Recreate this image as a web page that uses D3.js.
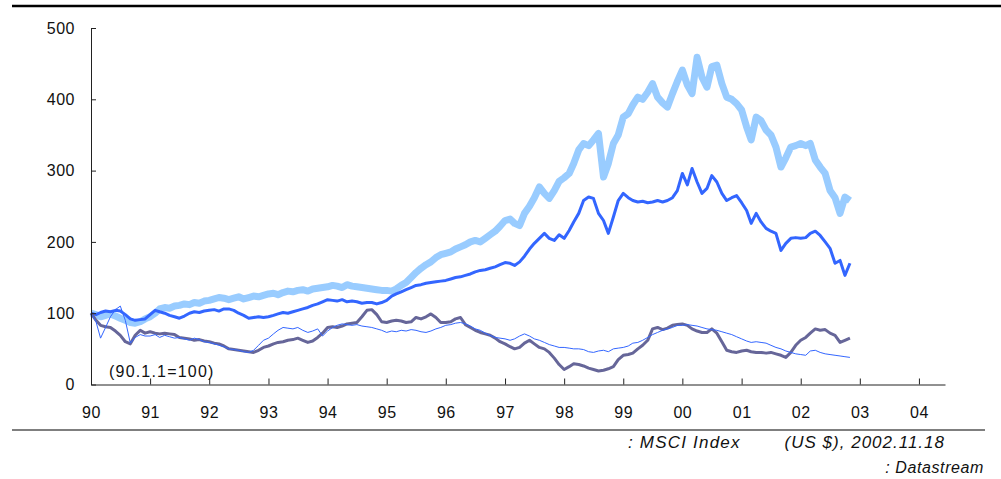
<!DOCTYPE html>
<html>
<head>
<meta charset="utf-8">
<script src="https://cdn.jsdelivr.net/npm/d3@7"></script>
<style>
  body { margin: 0; background: #fff; }
  svg text { font-family: "Liberation Sans", Arial, sans-serif; fill: #111; }
</style>
</head>
<body>
<div id="chart"></div>
<script>
// Monthly points, Jan 1990 .. Nov 2002 (90.1.1 = 100)
const months = d3.timeMonth.range(new Date(1990, 0, 1), new Date(2002, 11, 1));

// light blue, thick
const seriesA = [
  100, 98, 95, 97, 99, 96, 93, 90, 87, 86, 88, 92,
  95, 100, 106, 108, 107, 110, 111, 113, 112, 115, 114, 117,
  118, 120, 122, 121, 119, 121, 123, 120, 122, 124, 123, 125,
  127, 128, 126, 129, 131, 130, 132, 133, 131, 134, 135, 136,
  137, 139, 138, 136, 140, 138, 137, 136, 135, 134, 133, 132,
  132, 131, 134, 139, 143, 150, 157, 163, 168, 172, 178, 182,
  184, 186, 190, 193, 196, 200, 202, 200, 205, 210, 215, 222,
  230, 232, 226, 223, 240, 250, 262, 277, 268, 261, 272, 285,
  290, 296, 310, 329, 338, 335, 343, 352, 291, 310, 338, 350,
  375, 380, 392, 403, 400, 410, 422, 403, 395, 389, 408, 425,
  441, 420, 408, 459, 431, 417, 446, 448, 422, 403, 400, 394,
  385, 361, 343, 375, 370, 357, 350, 333, 305, 318, 333, 335,
  338, 335, 338, 315, 305, 296, 272, 262, 240, 263, 258
];
// blue, medium
const seriesB = [
  100, 98, 101, 103, 102, 104, 103, 98, 92, 90, 91, 92,
  98, 104, 102, 100, 97, 95, 93, 96, 100, 102, 101, 103,
  104, 105, 103, 106, 106, 104, 100, 97, 93, 94, 95, 94,
  95, 97, 99, 101, 100, 102, 104, 106, 108, 111, 113, 116,
  119, 118, 117, 119, 116, 117, 116, 114, 115, 115, 113, 115,
  118, 124, 127, 130, 133, 136, 139, 140, 142, 143, 144, 145,
  146, 148, 150, 151, 153, 155, 158, 160, 161, 163, 165, 168,
  171, 170, 167, 172, 180, 190, 198, 205, 212, 205, 202, 210,
  205, 216, 228, 240, 258, 263, 261, 240, 230, 212, 235, 258,
  268, 262, 258, 256, 257, 255, 256, 258, 256, 258, 262, 272,
  296, 280, 303, 284, 268, 275, 293, 284, 268, 258, 262, 265,
  255, 244, 226, 240, 228, 219, 215, 212, 188, 198, 205, 206,
  205, 206, 212, 215, 209, 200, 191, 170, 174, 153, 170
];
// blue, thin
const seriesC = [
  100, 88, 65, 80, 95, 105, 110, 90, 58, 66, 70, 68,
  68, 70, 66, 69, 67, 65, 66, 64, 62, 65, 63, 60,
  59, 57, 55, 53, 50, 49, 48, 46, 45, 48, 55, 62,
  65, 71, 76, 80, 79, 78, 80, 76, 73, 75, 78, 68,
  75, 80, 83, 85, 84, 83, 84, 82, 81, 80, 78, 76,
  73, 75, 74, 76, 75, 77, 76, 74, 73, 75, 78, 80,
  83, 84, 86, 87, 85, 82, 78, 76, 72, 69, 66, 65,
  64, 62, 64, 68, 71, 68, 64, 62, 59, 56, 54, 52,
  52, 51, 50, 50, 49, 46, 45, 47, 48, 46, 50, 51,
  52, 54, 58, 59, 62, 66, 70, 73, 76, 78, 80, 83,
  83, 84, 83, 82, 80, 78, 77, 76, 74, 72, 70, 67,
  64, 61, 59, 60, 59, 58, 55, 52, 50, 47, 45, 43,
  42, 41, 47, 48, 45, 43, 42, 41, 40, 39, 38
];
// grey-purple
const seriesD = [
  100, 90, 83, 81, 80, 75, 69, 60, 57, 69, 76, 72,
  74, 72, 71, 72, 71, 70, 66, 65, 64, 62, 63, 61,
  60, 58, 57, 54, 50, 49, 48, 47, 46, 45, 48, 52,
  54, 57, 59, 60, 62, 63, 65, 62, 59, 61, 66, 72,
  80, 81, 80, 82, 85, 86, 87, 95, 104, 105, 98, 88,
  87, 89, 90, 89, 87, 88, 94, 92, 95, 99, 94, 87,
  87, 88, 92, 94, 84, 80, 76, 73, 71, 69, 65, 60,
  57, 53, 50, 52, 58, 62, 57, 52, 50, 45, 37, 28,
  21, 25, 29, 28, 26, 23, 21, 19, 20, 22, 25, 35,
  41, 42, 44, 50, 55, 62, 78, 80, 77, 79, 83, 84,
  85, 83, 78, 75, 73, 73, 78, 72, 60, 48, 46, 45,
  47, 48, 46, 45, 45, 44, 45, 43, 41, 38, 45, 55,
  62, 66, 72, 78, 76, 77, 72, 69, 59, 62, 65
];

const yTicks = [0, 100, 200, 300, 400, 500];
const xTickLabels = ["90","91","92","93","94","95","96","97","98","99","00","01","02","03","04"];

const W = 1001, H = 479;
const svg = d3.select("#chart").append("svg")
    .attr("width", W).attr("height", H);

// scales
const x = d3.scaleTime()
    .domain([new Date(1990, 0, 1), new Date(2004, 5, 10)])
    .range([91, 945]);
const y = d3.scaleLinear().domain([0, 500]).range([384.5, 28]);

// top & bottom rules
svg.append("line").attr("x1", 12).attr("x2", 1001).attr("y1", 6).attr("y2", 6)
    .attr("stroke", "#000").attr("stroke-width", 2.5);
svg.append("line").attr("x1", 12).attr("x2", 985).attr("y1", 430).attr("y2", 430)
    .attr("stroke", "#000").attr("stroke-width", 1.2);

// series
const series = [
  {vals: seriesA, color: "#99ccff", w: 7},
  {vals: seriesB, color: "#3366ff", w: 3},
  {vals: seriesD, color: "#666699", w: 3},
  {vals: seriesC, color: "#3366ff", w: 1}
];
const line = d3.line()
    .x((d, i) => x(months[i]))
    .y(d => y(d));
svg.selectAll("path.series")
    .data(series)
    .join("path")
    .attr("class", "series")
    .attr("fill", "none")
    .attr("stroke", d => d.color)
    .attr("stroke-width", d => d.w)
    .attr("stroke-linejoin", "round")
    .attr("d", d => line(d.vals));

// axes
const yearDates = xTickLabels.map((_, i) => new Date(1990 + i, 0, 1));
const xAxis = svg.append("g")
    .attr("transform", `translate(0,${y(0)})`)
    .call(d3.axisBottom(x)
        .tickValues(yearDates)
        .tickFormat((d, i) => xTickLabels[i])
        .tickSizeInner(-6).tickSizeOuter(0).tickPadding(22));

const yAxis = svg.append("g")
    .attr("transform", "translate(91,0)")
    .call(d3.axisLeft(y)
        .tickValues(yTicks)
        .tickSizeInner(-5).tickSizeOuter(0).tickPadding(16));

svg.selectAll(".domain, .tick line").attr("stroke", "#222");
svg.selectAll(".tick text").attr("font-size", 16).attr("fill", "#111")
    .style("letter-spacing", "0.5px");
xAxis.selectAll(".tick line").filter((d, i) => i === 0).remove();

// notes
svg.append("text").attr("x", 109).attr("y", 377).attr("font-size", 16)
    .style("letter-spacing", "1.2px").text("(90.1.1=100)");
svg.append("text").attr("x", 628).attr("y", 448).attr("font-size", 17)
    .attr("font-style", "italic").style("letter-spacing", "1.2px").text(": MSCI Index");
svg.append("text").attr("x", 945).attr("y", 448).attr("font-size", 17)
    .attr("font-style", "italic").attr("text-anchor", "end")
    .style("letter-spacing", "1px").text("(US $), 2002.11.18");
svg.append("text").attr("x", 984).attr("y", 473).attr("font-size", 16)
    .attr("font-style", "italic").attr("text-anchor", "end")
    .style("letter-spacing", "0.6px").text(": Datastream");
</script>
</body>
</html>
